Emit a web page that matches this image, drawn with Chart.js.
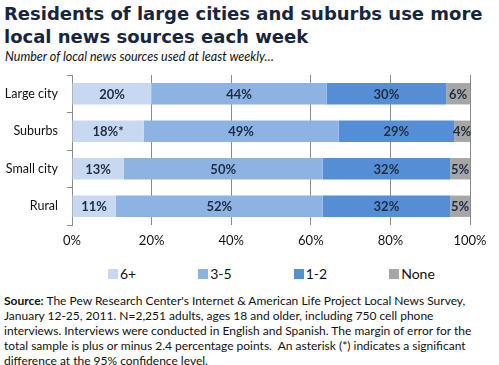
<!DOCTYPE html>
<html>
<head>
<meta charset="utf-8">
<script src="https://cdn.jsdelivr.net/npm/chart.js@4"></script>
<style>
  body { margin: 0; width: 499px; height: 365px; background: #fff; position: relative; overflow: hidden; font-family: Lato, sans-serif; }
  #titulo { position: absolute; left: 4px; top: 2px; font: bold 18px "DejaVu Sans", sans-serif; color: #17263c; line-height: 23px; }
  #subtitulo { position: absolute; left: 5px; top: 49px; font: italic 12.5px Lato, sans-serif; color: #111; }
  #grafico { position: absolute; left: 0; top: 66px; width: 499px; height: 185px; }
  #legenda { position: absolute; left: 108px; top: 265px; display: flex; font: 14px Lato, sans-serif; color: #111; }
  #legenda span.item { display: inline-flex; align-items: center; margin-right: 62px; }
  #legenda span.box { width: 10px; height: 10px; margin-right: 2px; }
  #fonte { position: absolute; left: 4px; top: 293px; width: 474px; font: 12px Lato, sans-serif; color: #111; line-height: 15px; }
</style>
</head>
<body>
<div id="titulo">Residents of large cities and suburbs use more<br>local news sources each week</div>
<div id="subtitulo">Number of local news sources used at least weekly…</div>
<div id="grafico"><canvas id="c"></canvas></div>
<div id="legenda"></div>
<div id="fonte"><b>Source:</b> The Pew Research Center's Internet &amp; American Life Project Local News Survey, January 12-25, 2011. N=2,251 adults, ages 18 and older, including 750 cell phone interviews. Interviews were conducted in English and Spanish. The margin of error for the total sample is plus or minus 2.4 percentage points.&nbsp; An asterisk (*) indicates a significant difference at the 95% confidence level.</div>
<script>
// ===== DADOS =====
const categorias = ['Large city', 'Suburbs', 'Small city', 'Rural'];
const seisMais = [20, 18, 13, 11];
const tresACinco = [44, 49, 50, 52];
const umADois = [30, 29, 32, 32];
const nenhuma = [6, 4, 5, 5];
const asteriscos = ['', '*', '', '']; // diferenca significativa (so 6+)
const ticksX = [0, 20, 40, 60, 80, 100];

// ===== RÓTULOS DENTRO DAS BARRAS =====
const rotulos = {
  id: 'rotulos',
  afterDatasetsDraw(chart) {
    const ctx = chart.ctx;
    ctx.save();
    ctx.font = 'bold 13px Lato, sans-serif';
    ctx.fillStyle = '#1f2d44';
    ctx.textAlign = 'center';
    ctx.textBaseline = 'middle';
    chart.data.datasets.forEach((ds, i) => {
      chart.getDatasetMeta(i).data.forEach((bar, j) => {
        const p = bar.getCenterPoint();
        const extra = i === 0 ? asteriscos[j] : '';
        ctx.fillText(ds.data[j] + '%' + extra, p.x, p.y + 1);
      });
    });
    ctx.restore();
  }
};

const grafico = new Chart(document.getElementById('c'), {
  type: 'bar',
  data: {
    labels: categorias,
    datasets: [
      { label: '6+', data: seisMais, backgroundColor: '#c6d9f1' },
      { label: '3-5', data: tresACinco, backgroundColor: '#8db3e2' },
      { label: '1-2', data: umADois, backgroundColor: '#558ed5' },
      { label: 'None', data: nenhuma, backgroundColor: '#a6a6a6' }
    ]
  },
  options: {
    indexAxis: 'y',
    responsive: true,
    maintainAspectRatio: false,
    animation: false,
    categoryPercentage: 1,
    barPercentage: 0.57,
    layout: { padding: { top: 9, right: 29, left: 0, bottom: 0 } },
    plugins: {
      legend: { display: false },
      tooltip: { enabled: false }
    },
    scales: {
      x: {
        stacked: true, min: 0, max: 100,
        afterBuildTicks(s) { s.ticks = ticksX.map(v => ({ value: v })); },
        ticks: { callback: v => v + '%', color: '#111', font: { family: 'Lato', size: 13 }, padding: 8 },
        grid: { color: '#8c8c8c', drawTicks: false },
        border: { display: false },
        afterFit(s) { s.height = 26; }
      },
      y: {
        stacked: true,
        ticks: { color: '#111', font: { family: 'Lato', size: 12.5 }, padding: 9 },
        grid: { drawOnChartArea: false, drawTicks: true, tickLength: 5, color: '#8c8c8c', offset: true },
        border: { color: '#8c8c8c' },
        afterFit(s) { s.width = 72; s.paddingTop = 0; s.paddingBottom = 0; }
      }
    }
  },
  plugins: [rotulos]
});

// ===== LEGENDA (HTML, a partir dos datasets) =====
document.getElementById('legenda').innerHTML = grafico.data.datasets
  .map(ds => `<span class="item"><span class="box" style="background:${ds.backgroundColor}"></span>${ds.label}</span>`)
  .join('');
</script>
</body>
</html>
